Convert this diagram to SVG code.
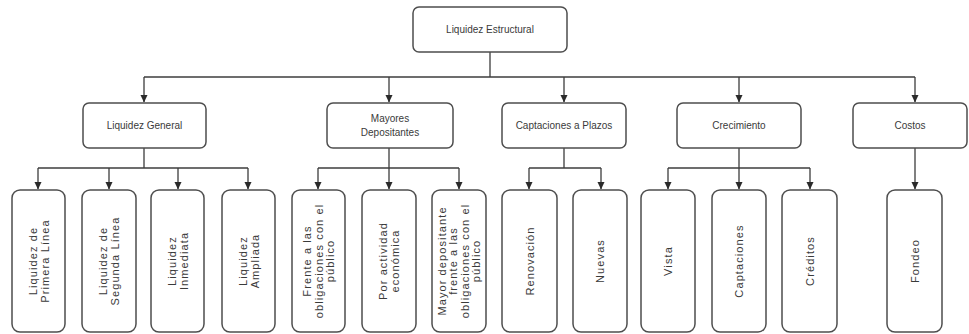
<svg xmlns="http://www.w3.org/2000/svg" width="969" height="334" viewBox="0 0 969 334">
  <style>
    .box { fill: #ffffff; stroke: #4e4e4e; stroke-width: 1.5; }
    .hdr { font-family: "Liberation Sans Narrow", "Liberation Sans", Arial, sans-serif; font-size: 10px; fill: #3a3a3a; text-anchor: middle; }
    .leaf { font-family: "Liberation Sans", Arial, sans-serif; font-size: 11px; letter-spacing: 1.1px; fill: #3a3a3a; text-anchor: middle; }
    .wire { fill: none; stroke: #3c3c3c; stroke-width: 1.3; }
  </style>
  <defs>
    <marker id="arrow" markerWidth="8" markerHeight="8" refX="7" refY="4" orient="auto" markerUnits="userSpaceOnUse">
      <path d="M0,0.5 L7.5,4 L0,7.5 Z" fill="#2a2a2a"/>
    </marker>
  </defs>
  <rect width="969" height="334" fill="#ffffff"/>

  <!-- connectors -->
  <g id="connectors" class="wire">
    <!-- root to level 2 -->
    <path d="M490,52 V77"/>
    <path d="M144,77 H915"/>
    <path d="M144,77 V102" marker-end="url(#arrow)"/>
    <path d="M389,77 V102" marker-end="url(#arrow)"/>
    <path d="M564,77 V102" marker-end="url(#arrow)"/>
    <path d="M739,77 V102" marker-end="url(#arrow)"/>
    <path d="M915,77 V102" marker-end="url(#arrow)"/>
    <!-- Liquidez General -->
    <path d="M144,148 V168"/>
    <path d="M38,168 H248"/>
    <path d="M38,168 V189" marker-end="url(#arrow)"/>
    <path d="M109,168 V189" marker-end="url(#arrow)"/>
    <path d="M178,168 V189" marker-end="url(#arrow)"/>
    <path d="M248,168 V189" marker-end="url(#arrow)"/>
    <!-- Mayores Depositantes -->
    <path d="M389,148 V168"/>
    <path d="M318,168 H459"/>
    <path d="M318,168 V189" marker-end="url(#arrow)"/>
    <path d="M389,168 V189" marker-end="url(#arrow)"/>
    <path d="M459,168 V189" marker-end="url(#arrow)"/>
    <!-- Captaciones a Plazos -->
    <path d="M564,148 V168"/>
    <path d="M529,168 H601"/>
    <path d="M529,168 V189" marker-end="url(#arrow)"/>
    <path d="M601,168 V189" marker-end="url(#arrow)"/>
    <!-- Crecimiento -->
    <path d="M739,148 V168"/>
    <path d="M668,168 H810"/>
    <path d="M668,168 V189" marker-end="url(#arrow)"/>
    <path d="M739,168 V189" marker-end="url(#arrow)"/>
    <path d="M810,168 V189" marker-end="url(#arrow)"/>
    <!-- Costos -->
    <path d="M915,148 V189" marker-end="url(#arrow)"/>
  </g>

  <!-- root -->
  <g id="liquidez-estructural">
    <rect class="box" x="413" y="7" width="154" height="45" rx="6"/>
    <text class="hdr" x="490" y="33">Liquidez Estructural</text>
  </g>

  <!-- level 2 -->
  <g id="liquidez-general">
    <rect class="box" x="83" y="103" width="123" height="45" rx="6"/>
    <text class="hdr" x="144.5" y="129">Liquidez General</text>
  </g>
  <g id="mayores-depositantes">
    <rect class="box" x="327" y="103" width="126" height="45" rx="6"/>
    <text class="hdr" x="390" y="122">Mayores</text>
    <text class="hdr" x="390" y="136">Depositantes</text>
  </g>
  <g id="captaciones-plazos">
    <rect class="box" x="502" y="103" width="124" height="45" rx="6"/>
    <text class="hdr" x="564" y="129">Captaciones a Plazos</text>
  </g>
  <g id="crecimiento">
    <rect class="box" x="677" y="103" width="124" height="45" rx="6"/>
    <text class="hdr" x="739" y="129">Crecimiento</text>
  </g>
  <g id="costos">
    <rect class="box" x="853" y="103" width="114" height="45" rx="6"/>
    <text class="hdr" x="910" y="129">Costos</text>
  </g>

  <!-- level 3: Liquidez General -->
  <g id="primera-linea">
    <rect class="box" x="12" y="190" width="53" height="142" rx="8"/>
    <g transform="translate(38.5,261) rotate(-90)">
      <text class="leaf" x="0" y="-2">Liquidez de</text>
      <text class="leaf" x="0" y="10">Primera Línea</text>
    </g>
  </g>
  <g id="segunda-linea">
    <rect class="box" x="82" y="190" width="54" height="142" rx="8"/>
    <g transform="translate(109,261) rotate(-90)">
      <text class="leaf" x="0" y="-2">Liquidez de</text>
      <text class="leaf" x="0" y="10">Segunda Línea</text>
    </g>
  </g>
  <g id="inmediata">
    <rect class="box" x="151" y="190" width="53" height="142" rx="8"/>
    <g transform="translate(177.5,261) rotate(-90)">
      <text class="leaf" x="0" y="-2">Liquidez</text>
      <text class="leaf" x="0" y="10">Inmediata</text>
    </g>
  </g>
  <g id="ampliada">
    <rect class="box" x="222" y="190" width="53" height="142" rx="8"/>
    <g transform="translate(248.5,261) rotate(-90)">
      <text class="leaf" x="0" y="-2">Liquidez</text>
      <text class="leaf" x="0" y="10">Ampliada</text>
    </g>
  </g>

  <!-- level 3: Mayores Depositantes -->
  <g id="frente-obligaciones">
    <rect class="box" x="292" y="190" width="53" height="142" rx="8"/>
    <g transform="translate(318.5,261) rotate(-90)">
      <text class="leaf" x="0" y="-7.5">Frente a las</text>
      <text class="leaf" x="0" y="4">obligaciones con el</text>
      <text class="leaf" x="0" y="15.5">público</text>
    </g>
  </g>
  <g id="actividad-economica">
    <rect class="box" x="362" y="190" width="54" height="142" rx="8"/>
    <g transform="translate(389,261) rotate(-90)">
      <text class="leaf" x="0" y="-2">Por actividad</text>
      <text class="leaf" x="0" y="10">económica</text>
    </g>
  </g>
  <g id="mayor-depositante">
    <rect class="box" x="432" y="190" width="54" height="142" rx="8"/>
    <g transform="translate(459,261) rotate(-90)">
      <text class="leaf" x="0" y="-13.5">Mayor depositante</text>
      <text class="leaf" x="0" y="-2">frente a las</text>
      <text class="leaf" x="0" y="9.5">obligaciones con el</text>
      <text class="leaf" x="0" y="21">público</text>
    </g>
  </g>

  <!-- level 3: Captaciones a Plazos -->
  <g id="renovacion">
    <rect class="box" x="502" y="190" width="55" height="142" rx="8"/>
    <text class="leaf" transform="translate(529.5,261) rotate(-90)" x="0" y="4">Renovación</text>
  </g>
  <g id="nuevas">
    <rect class="box" x="573" y="190" width="54" height="142" rx="8"/>
    <text class="leaf" transform="translate(600,261) rotate(-90)" x="0" y="4">Nuevas</text>
  </g>

  <!-- level 3: Crecimiento -->
  <g id="vista">
    <rect class="box" x="641" y="190" width="54" height="142" rx="8"/>
    <text class="leaf" transform="translate(668,261) rotate(-90)" x="0" y="4">Vista</text>
  </g>
  <g id="captaciones">
    <rect class="box" x="712" y="190" width="54" height="142" rx="8"/>
    <text class="leaf" transform="translate(739,261) rotate(-90)" x="0" y="4">Captaciones</text>
  </g>
  <g id="creditos">
    <rect class="box" x="782" y="190" width="55" height="142" rx="8"/>
    <text class="leaf" transform="translate(809.5,261) rotate(-90)" x="0" y="4">Créditos</text>
  </g>

  <!-- level 3: Costos -->
  <g id="fondeo">
    <rect class="box" x="887" y="190" width="55" height="142" rx="8"/>
    <text class="leaf" transform="translate(914.5,261) rotate(-90)" x="0" y="4">Fondeo</text>
  </g>
</svg>
